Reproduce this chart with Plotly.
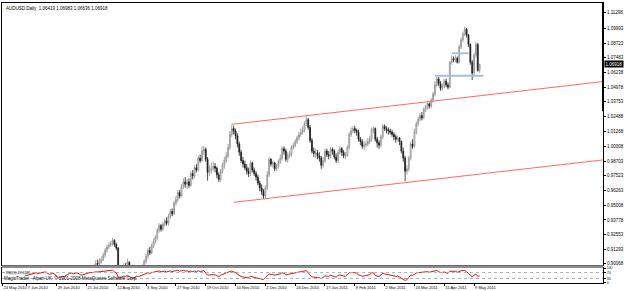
import plotly.graph_objects as go
import pandas as pd
import numpy as np

# ---------------- data ----------------
dates = pd.bdate_range("2010-05-24", "2011-05-12")

opens = [
    0.8360, 0.8290, 0.8185, 0.8270, 0.8420,
    0.8480, 0.8455, 0.8380, 0.8510, 0.8560,
    0.8340, 0.8300, 0.8375, 0.8410, 0.8470,
    0.8560, 0.8620, 0.8580, 0.8630, 0.8690,
    0.8745, 0.8800, 0.8720, 0.8660, 0.8685,
    0.8770, 0.8710, 0.8490, 0.8430, 0.8390,
    0.8470, 0.8465, 0.8540, 0.8640, 0.8750,
    0.8790, 0.8750, 0.8800, 0.8830, 0.8790,
    0.8710, 0.8720, 0.8760, 0.8820, 0.8900,
    0.8940, 0.8930, 0.8985, 0.9010, 0.9005,
    0.9030, 0.9045, 0.9080, 0.9120, 0.9150,
    0.9165, 0.9180, 0.9205, 0.9170, 0.9140,
    0.8960, 0.8935, 0.8960, 0.8990, 0.8975,
    0.9020, 0.8950, 0.8870, 0.8830, 0.8880,
    0.8930, 0.8905, 0.8950, 0.8990, 0.9030,
    0.9070, 0.9120, 0.9100, 0.9160, 0.9195,
    0.9230, 0.9290, 0.9330, 0.9300, 0.9340,
    0.9370, 0.9350, 0.9410, 0.9450, 0.9430,
    0.9520, 0.9550, 0.9610, 0.9580, 0.9660,
    0.9700, 0.9680, 0.9700, 0.9670, 0.9770,
    0.9750, 0.9820, 0.9800, 0.9900, 0.9880,
    0.9960, 0.9975, 0.9890, 0.9780, 0.9800,
    0.9815, 0.9830, 0.9815, 0.9760, 0.9720,
    0.9790, 0.9840, 0.9880, 0.9920, 0.9990,
    1.0100, 1.0150, 1.0130, 1.0090, 1.0020,
    0.9950, 0.9880, 0.9850, 0.9820, 0.9790,
    0.9770, 0.9860, 0.9800, 0.9770, 0.9740,
    0.9690, 0.9650, 0.9620, 0.9580, 0.9650,
    0.9760, 0.9890, 0.9850, 0.9860, 0.9810,
    0.9830, 0.9870, 0.9900, 0.9980, 0.9960,
    0.9890, 0.9920, 0.9935, 0.9990, 1.0005,
    1.0040, 1.0070, 1.0100, 1.0120, 1.0140,
    1.0190, 1.0225, 1.0160, 1.0050, 0.9960,
    0.9940, 0.9945, 0.9920, 0.9900, 0.9840,
    0.9880, 0.9960, 0.9930, 0.9920, 0.9975,
    0.9960, 0.9910, 0.9880, 0.9950, 0.9980,
    0.9950, 0.9920, 0.9925, 0.9990, 1.0100,
    1.0130, 1.0150, 1.0135, 1.0120, 1.0060,
    1.0040, 1.0000, 1.0010, 1.0020, 1.0040,
    1.0060, 1.0140, 1.0150, 1.0060, 1.0030,
    1.0010, 1.0080, 1.0170, 1.0150, 1.0140,
    1.0130, 1.0120, 1.0100, 1.0080, 1.0060,
    1.0070, 1.0040, 0.9960, 0.9900, 0.9790,
    0.9810, 0.9900, 1.0020, 1.0000, 1.0120,
    1.0190, 1.0230, 1.0260, 1.0240, 1.0310,
    1.0330, 1.0360, 1.0340, 1.0390, 1.0440,
    1.0520, 1.0570, 1.0530, 1.0490, 1.0510,
    1.0550, 1.0520, 1.0500, 1.0710, 1.0740,
    1.0730, 1.0745, 1.0710, 1.0840, 1.0900,
    1.0950, 1.0990, 1.0940, 1.0860, 1.0710,
    1.0620, 1.0770, 1.0860, 1.06419,
]
highs = [
    0.8410, 0.8330, 0.8300, 0.8450, 0.8530,
    0.8520, 0.8490, 0.8540, 0.8600, 0.8590,
    0.8370, 0.8400, 0.8450, 0.8500, 0.8590,
    0.8650, 0.8640, 0.8660, 0.8720, 0.8770,
    0.8860, 0.8810, 0.8740, 0.8710, 0.8790,
    0.8790, 0.8730, 0.8510, 0.8480, 0.8500,
    0.8500, 0.8570, 0.8660, 0.8770, 0.8810,
    0.8810, 0.8830, 0.8860, 0.8850, 0.8800,
    0.8750, 0.8790, 0.8850, 0.8920, 0.8960,
    0.8970, 0.9000, 0.9040, 0.9045, 0.9055,
    0.9070, 0.9100, 0.9140, 0.9170, 0.9190,
    0.9200, 0.9225, 0.9215, 0.9185, 0.9150,
    0.8980, 0.8985, 0.9010, 0.9015, 0.9050,
    0.9030, 0.8970, 0.8890, 0.8900, 0.8950,
    0.8950, 0.8970, 0.9005, 0.9045, 0.9090,
    0.9140, 0.9150, 0.9180, 0.9220, 0.9250,
    0.9310, 0.9350, 0.9345, 0.9360, 0.9390,
    0.9400, 0.9430, 0.9470, 0.9475, 0.9540,
    0.9580, 0.9630, 0.9630, 0.9680, 0.9730,
    0.9740, 0.9725, 0.9730, 0.9790, 0.9800,
    0.9840, 0.9850, 0.9920, 0.9930, 1.0000,
    1.0005, 0.9990, 0.9910, 0.9840, 0.9860,
    0.9870, 0.9860, 0.9830, 0.9780, 0.9810,
    0.9860, 0.9910, 0.9950, 1.0020, 1.0130,
    1.0183, 1.0175, 1.0150, 1.0110, 1.0040,
    0.9970, 0.9910, 0.9880, 0.9850, 0.9820,
    0.9880, 0.9870, 0.9820, 0.9790, 0.9760,
    0.9710, 0.9680, 0.9640, 0.9670, 0.9790,
    0.9910, 0.9900, 0.9880, 0.9870, 0.9850,
    0.9890, 0.9930, 1.0000, 1.0000, 0.9980,
    0.9950, 0.9960, 1.0010, 1.0030, 1.0060,
    1.0090, 1.0120, 1.0150, 1.0170, 1.0210,
    1.0255, 1.0240, 1.0180, 1.0070, 0.9990,
    0.9980, 0.9970, 0.9950, 0.9920, 0.9910,
    0.9980, 0.9980, 0.9960, 0.9995, 0.9990,
    0.9975, 0.9940, 0.9970, 1.0000, 0.9995,
    0.9970, 0.9950, 1.0010, 1.0120, 1.0160,
    1.0170, 1.0175, 1.0150, 1.0140, 1.0080,
    1.0060, 1.0040, 1.0050, 1.0070, 1.0090,
    1.0160, 1.0170, 1.0160, 1.0080, 1.0050,
    1.0100, 1.0190, 1.0185, 1.0170, 1.0160,
    1.0150, 1.0140, 1.0120, 1.0100, 1.0090,
    1.0080, 1.0050, 0.9990, 0.9920, 0.9840,
    0.9920, 1.0040, 1.0060, 1.0150, 1.0210,
    1.0250, 1.0280, 1.0290, 1.0330, 1.0350,
    1.0380, 1.0370, 1.0410, 1.0460, 1.0550,
    1.0590, 1.0585, 1.0550, 1.0530, 1.0570,
    1.0570, 1.0540, 1.0720, 1.0770, 1.0760,
    1.0770, 1.0760, 1.0860, 1.0920, 1.0970,
    1.1012, 1.1000, 1.0950, 1.0870, 1.0730,
    1.0790, 1.0880, 1.0875, 1.06983,
]
lows = [
    0.8240, 0.8090, 0.8160, 0.8240, 0.8380,
    0.8410, 0.8330, 0.8360, 0.8490, 0.8310,
    0.8260, 0.8280, 0.8350, 0.8380, 0.8450,
    0.8540, 0.8550, 0.8560, 0.8610, 0.8670,
    0.8730, 0.8690, 0.8630, 0.8620, 0.8660,
    0.8690, 0.8470, 0.8380, 0.8320, 0.8370,
    0.8430, 0.8440, 0.8520, 0.8620, 0.8720,
    0.8720, 0.8730, 0.8780, 0.8760, 0.8680,
    0.8660, 0.8700, 0.8740, 0.8800, 0.8880,
    0.8900, 0.8910, 0.8960, 0.8980, 0.8990,
    0.9010, 0.9030, 0.9060, 0.9100, 0.9130,
    0.9150, 0.9160, 0.9150, 0.9120, 0.8940,
    0.8900, 0.8910, 0.8940, 0.8950, 0.8960,
    0.8930, 0.8850, 0.8790, 0.8810, 0.8860,
    0.8880, 0.8890, 0.8930, 0.8970, 0.9010,
    0.9050, 0.9080, 0.9090, 0.9140, 0.9180,
    0.9210, 0.9270, 0.9280, 0.9285, 0.9320,
    0.9330, 0.9330, 0.9390, 0.9410, 0.9420,
    0.9500, 0.9530, 0.9560, 0.9570, 0.9640,
    0.9650, 0.9640, 0.9650, 0.9660, 0.9720,
    0.9730, 0.9780, 0.9790, 0.9860, 0.9870,
    0.9930, 0.9870, 0.9710, 0.9750, 0.9770,
    0.9790, 0.9780, 0.9730, 0.9700, 0.9700,
    0.9770, 0.9810, 0.9860, 0.9900, 0.9970,
    1.0080, 1.0100, 1.0060, 0.9990, 0.9920,
    0.9860, 0.9820, 0.9800, 0.9760, 0.9740,
    0.9750, 0.9780, 0.9750, 0.9710, 0.9670,
    0.9620, 0.9590, 0.9555, 0.9560, 0.9630,
    0.9740, 0.9830, 0.9820, 0.9790, 0.9790,
    0.9810, 0.9850, 0.9880, 0.9930, 0.9870,
    0.9860, 0.9900, 0.9910, 0.9970, 0.9990,
    1.0020, 1.0050, 1.0080, 1.0100, 1.0120,
    1.0170, 1.0140, 1.0030, 0.9940, 0.9910,
    0.9900, 0.9890, 0.9870, 0.9810, 0.9820,
    0.9860, 0.9910, 0.9890, 0.9900, 0.9930,
    0.9890, 0.9860, 0.9860, 0.9930, 0.9920,
    0.9900, 0.9890, 0.9910, 0.9970, 1.0080,
    1.0110, 1.0110, 1.0090, 1.0040, 1.0010,
    0.9980, 0.9970, 0.9990, 1.0000, 1.0020,
    1.0040, 1.0110, 1.0040, 0.9990, 0.9980,
    0.9990, 1.0060, 1.0130, 1.0110, 1.0100,
    1.0100, 1.0080, 1.0050, 1.0030, 1.0040,
    1.0010, 0.9940, 0.9870, 0.9705, 0.9760,
    0.9790, 0.9880, 0.9980, 0.9990, 1.0100,
    1.0170, 1.0210, 1.0220, 1.0230, 1.0290,
    1.0310, 1.0320, 1.0320, 1.0370, 1.0420,
    1.0500, 1.0510, 1.0470, 1.0470, 1.0490,
    1.0500, 1.0480, 1.0490, 1.0690, 1.0710,
    1.0710, 1.0700, 1.0700, 1.0820, 1.0880,
    1.0930, 1.0920, 1.0840, 1.0690, 1.0560,
    1.0600, 1.0750, 1.0630, 1.0620,
]
closes = [
    0.8290, 0.8185, 0.8270, 0.8420, 0.8480,
    0.8455, 0.8380, 0.8510, 0.8560, 0.8340,
    0.8300, 0.8375, 0.8410, 0.8470, 0.8560,
    0.8620, 0.8580, 0.8630, 0.8690, 0.8745,
    0.8800, 0.8720, 0.8660, 0.8685, 0.8770,
    0.8710, 0.8490, 0.8430, 0.8390, 0.8470,
    0.8465, 0.8540, 0.8640, 0.8750, 0.8790,
    0.8750, 0.8800, 0.8830, 0.8790, 0.8710,
    0.8720, 0.8760, 0.8820, 0.8900, 0.8940,
    0.8930, 0.8985, 0.9010, 0.9005, 0.9030,
    0.9045, 0.9080, 0.9120, 0.9150, 0.9165,
    0.9180, 0.9205, 0.9170, 0.9140, 0.8960,
    0.8935, 0.8960, 0.8990, 0.8975, 0.9020,
    0.8950, 0.8870, 0.8830, 0.8880, 0.8930,
    0.8905, 0.8950, 0.8990, 0.9030, 0.9070,
    0.9120, 0.9100, 0.9160, 0.9195, 0.9230,
    0.9290, 0.9330, 0.9300, 0.9340, 0.9370,
    0.9350, 0.9410, 0.9450, 0.9430, 0.9520,
    0.9550, 0.9610, 0.9580, 0.9660, 0.9700,
    0.9680, 0.9700, 0.9670, 0.9770, 0.9750,
    0.9820, 0.9800, 0.9900, 0.9880, 0.9960,
    0.9975, 0.9890, 0.9780, 0.9800, 0.9815,
    0.9830, 0.9815, 0.9760, 0.9720, 0.9790,
    0.9840, 0.9880, 0.9920, 0.9990, 1.0100,
    1.0150, 1.0130, 1.0090, 1.0020, 0.9950,
    0.9880, 0.9850, 0.9820, 0.9790, 0.9770,
    0.9860, 0.9800, 0.9770, 0.9740, 0.9690,
    0.9650, 0.9620, 0.9580, 0.9650, 0.9760,
    0.9890, 0.9850, 0.9860, 0.9810, 0.9830,
    0.9870, 0.9900, 0.9980, 0.9960, 0.9890,
    0.9920, 0.9935, 0.9990, 1.0005, 1.0040,
    1.0070, 1.0100, 1.0120, 1.0140, 1.0190,
    1.0225, 1.0160, 1.0050, 0.9960, 0.9940,
    0.9945, 0.9920, 0.9900, 0.9840, 0.9880,
    0.9960, 0.9930, 0.9920, 0.9975, 0.9960,
    0.9910, 0.9880, 0.9950, 0.9980, 0.9950,
    0.9920, 0.9925, 0.9990, 1.0100, 1.0130,
    1.0150, 1.0135, 1.0120, 1.0060, 1.0040,
    1.0000, 1.0010, 1.0020, 1.0040, 1.0060,
    1.0140, 1.0150, 1.0060, 1.0030, 1.0010,
    1.0080, 1.0170, 1.0150, 1.0140, 1.0130,
    1.0120, 1.0100, 1.0080, 1.0060, 1.0070,
    1.0040, 0.9960, 0.9900, 0.9790, 0.9810,
    0.9900, 1.0020, 1.0000, 1.0120, 1.0190,
    1.0230, 1.0260, 1.0240, 1.0310, 1.0330,
    1.0360, 1.0340, 1.0390, 1.0440, 1.0520,
    1.0570, 1.0530, 1.0490, 1.0510, 1.0550,
    1.0520, 1.0500, 1.0710, 1.0740, 1.0730,
    1.0745, 1.0710, 1.0840, 1.0900, 1.0950,
    1.0990, 1.0940, 1.0860, 1.0710, 1.0620,
    1.0770, 1.0860, 1.0642, 1.06918,
]

price_ticks = [1.11298, 1.09993, 1.08723, 1.07483, 1.06238, 1.04978, 1.03753,
               1.02488, 1.01268, 1.00008, 0.98703, 0.97523, 0.96263, 0.95008,
               0.93778, 0.92553, 0.91293, 0.90068]
price_tick_text = ["1.11298", "1.09993", "1.08723", "1.07483", "1.06238", "1.04978",
                   "1.03753", "1.02488", "1.01268", "1.00008", "0.98703", "0.97523",
                   "0.96263", "0.95008", "0.93778", "0.92553", "0.91293", "0.90068"]

date_tick_dates = ["2010-05-24", "2010-06-07", "2010-06-29", "2010-07-21", "2010-08-12",
                   "2010-09-03", "2010-09-27", "2010-10-19", "2010-11-10", "2010-12-02",
                   "2010-12-24", "2011-01-17", "2011-02-08", "2011-03-02", "2011-03-24",
                   "2011-04-15", "2011-05-09"]
date_tick_text = ["24 May 2010", "7 Jun 2010", "29 Jun 2010", "21 Jul 2010", "12 Aug 2010",
                  "3 Sep 2010", "27 Sep 2010", "19 Oct 2010", "10 Nov 2010", "2 Dec 2010",
                  "24 Dec 2010", "17 Jan 2011", "8 Feb 2011", "2 Mar 2011", "24 Mar 2011",
                  "15 Apr 2011", "9 May 2011"]

rsi_ticks = [100, 70, 30, 0]
rsi_levels = [70, 30]

# trendlines: (start bar, start price, end bar, end price)
red_lines = [(120, 1.0186, 319, 1.0547), (121, 0.9527, 319, 0.9885)]
blue_lines = [(229, 1.0596, 255, 1.0596), (238, 1.0786, 247, 1.0786)]

title_text = "AUDUSD,Daily  1.06419 1.06983 1.06636 1.06918"
rsi_text = "RSI(9) 47.6125"
copyright_text = "MagicTrader - Alpari UK, \u00a9 2001-2008 MetaQuotes Software Corp."
last_price = 1.06918

assert len(opens) == len(highs) == len(lows) == len(closes) == len(dates)

# ---------------- derived ----------------
bars = np.arange(len(dates))
date_pos = {d.strftime("%Y-%m-%d"): i for i, d in enumerate(dates)}

def rsi_calc(c, n=9):
    c = np.asarray(c, float)
    d = np.diff(c)
    g = np.where(d > 0, d, 0.0)
    l = np.where(d < 0, -d, 0.0)
    out = [None] * len(c)
    ag = g[:n].mean()
    al = l[:n].mean()
    out[n] = 100 - 100 / (1 + ag / al) if al > 0 else 100
    for k in range(n, len(d)):
        ag = (ag * (n - 1) + g[k]) / n
        al = (al * (n - 1) + l[k]) / n
        out[k + 1] = 100 - 100 / (1 + ag / al) if al > 0 else 100
    return out

rsi_vals = rsi_calc(closes, 9)

W, H = 625, 291
ML, MR, MT, MB = 1, 18, 1, 8
plot_h = H - MT - MB
main_bottom = (H - MB - 265) / plot_h
rsi_top = (H - MB - 268) / plot_h

x_lo, x_hi = -3.33, 319.2
y_lo, y_hi = 0.89962, 1.12112

tickvals_x = [date_pos[d] for d in date_tick_dates]
tickvals_x[0] = x_lo + 0.3

FONT = "Liberation Sans, Arial, sans-serif"
FS = 4.5
FS_DATE = 4
FS_SMALL = 3.6

fig = go.Figure()
fig.add_trace(go.Candlestick(
    x=bars, open=opens, high=highs, low=lows, close=closes,
    increasing=dict(line=dict(color="#8c8c8c", width=0.8), fillcolor="#ffffff"),
    decreasing=dict(line=dict(color="#1a1a1a", width=0.8), fillcolor="#1a1a1a"),
    whiskerwidth=0, xaxis="x", yaxis="y", hoverinfo="skip",
))
fig.add_trace(go.Scatter(
    x=bars, y=rsi_vals, mode="lines", line=dict(color="#d01818", width=1),
    xaxis="x2", yaxis="y2", hoverinfo="skip",
))

shapes = []
for (b0, p0, b1, p1) in red_lines:
    shapes.append(dict(type="line", xref="x", yref="y", x0=b0, y0=p0, x1=b1, y1=p1,
                       line=dict(color="#ff6a6a", width=1)))
for (b0, p0, b1, p1) in blue_lines:
    shapes.append(dict(type="line", xref="x", yref="y", x0=b0, y0=p0, x1=b1, y1=p1,
                       line=dict(color="#a9bedc", width=2)))
for lv in rsi_levels:
    shapes.append(dict(type="line", xref="x2 domain", yref="y2", x0=0, x1=1, y0=lv, y1=lv,
                       line=dict(color="#b0b0b0", width=1, dash="dot")))
# grey separator between windows
shapes.append(dict(type="rect", xref="paper", yref="paper", x0=0, x1=1,
                   y0=rsi_top, y1=main_bottom, fillcolor="#8c8c8c", line=dict(width=0)))
# thick scale bar at right border
shapes.append(dict(type="line", xref="paper", yref="paper", x0=1, x1=1,
                   y0=(H - MB - 110) / plot_h, y1=1, line=dict(color="#000000", width=2)))

annotations = [
    dict(text=title_text, xref="paper", yref="paper", x=0.003, y=0.995,
         xanchor="left", yanchor="top", showarrow=False,
         font=dict(family=FONT, size=FS, color="#000000")),
    dict(text=rsi_text, xref="paper", yref="y2 domain", x=0.003, y=0.97,
         xanchor="left", yanchor="top", showarrow=False,
         font=dict(family=FONT, size=FS_SMALL, color="#000000")),
    dict(text=copyright_text, xref="paper", yref="y2 domain", x=0.0, y=0.0,
         xanchor="left", yanchor="bottom", showarrow=False,
         font=dict(family=FONT, size=FS, color="#000000")),
    dict(text="%.5f" % last_price, xref="paper", yref="y", x=1.0, y=last_price,
         xanchor="left", yanchor="middle", showarrow=False, xshift=1,
         bgcolor="#000000", borderpad=0.5,
         font=dict(family=FONT, size=FS, color="#ffffff")),
]

fig.update_layout(
    width=W, height=H, margin=dict(l=ML, r=MR, t=MT, b=MB),
    paper_bgcolor="#ffffff", plot_bgcolor="#ffffff",
    showlegend=False, shapes=shapes, annotations=annotations,
    xaxis=dict(domain=[0, 1], anchor="y", range=[x_lo, x_hi], showticklabels=False,
               showgrid=False, zeroline=False, showline=True, mirror=True,
               linecolor="#000000", linewidth=1, rangeslider=dict(visible=False),
               ticks=""),
    yaxis=dict(domain=[main_bottom, 1], anchor="x", range=[y_lo, y_hi], side="right",
               tickvals=price_ticks, ticktext=price_tick_text, ticks="outside",
               ticklen=2, tickcolor="#000000", showgrid=False, zeroline=False,
               showline=True, mirror=True, linecolor="#000000", linewidth=1,
               tickfont=dict(family=FONT, size=FS, color="#000000")),
    xaxis2=dict(domain=[0, 1], anchor="y2", range=[x_lo, x_hi], matches="x",
                tickvals=tickvals_x, ticktext=date_tick_text, ticks="outside",
                ticklen=2, tickcolor="#000000", ticklabelposition="outside right",
                tickangle=0, showgrid=False, zeroline=False, showline=True, mirror=True,
                linecolor="#000000", linewidth=1,
                tickfont=dict(family=FONT, size=FS_DATE, color="#000000")),
    yaxis2=dict(domain=[0, rsi_top], anchor="x2", range=[0, 100], side="right",
                tickvals=rsi_ticks, ticktext=[str(v) for v in rsi_ticks],
                ticks="outside", ticklen=2, tickcolor="#000000",
                showgrid=False, zeroline=False, showline=True, mirror=True,
                linecolor="#000000", linewidth=1,
                tickfont=dict(family=FONT, size=3.5, color="#000000")),
)

fig.write_html("out.html")
